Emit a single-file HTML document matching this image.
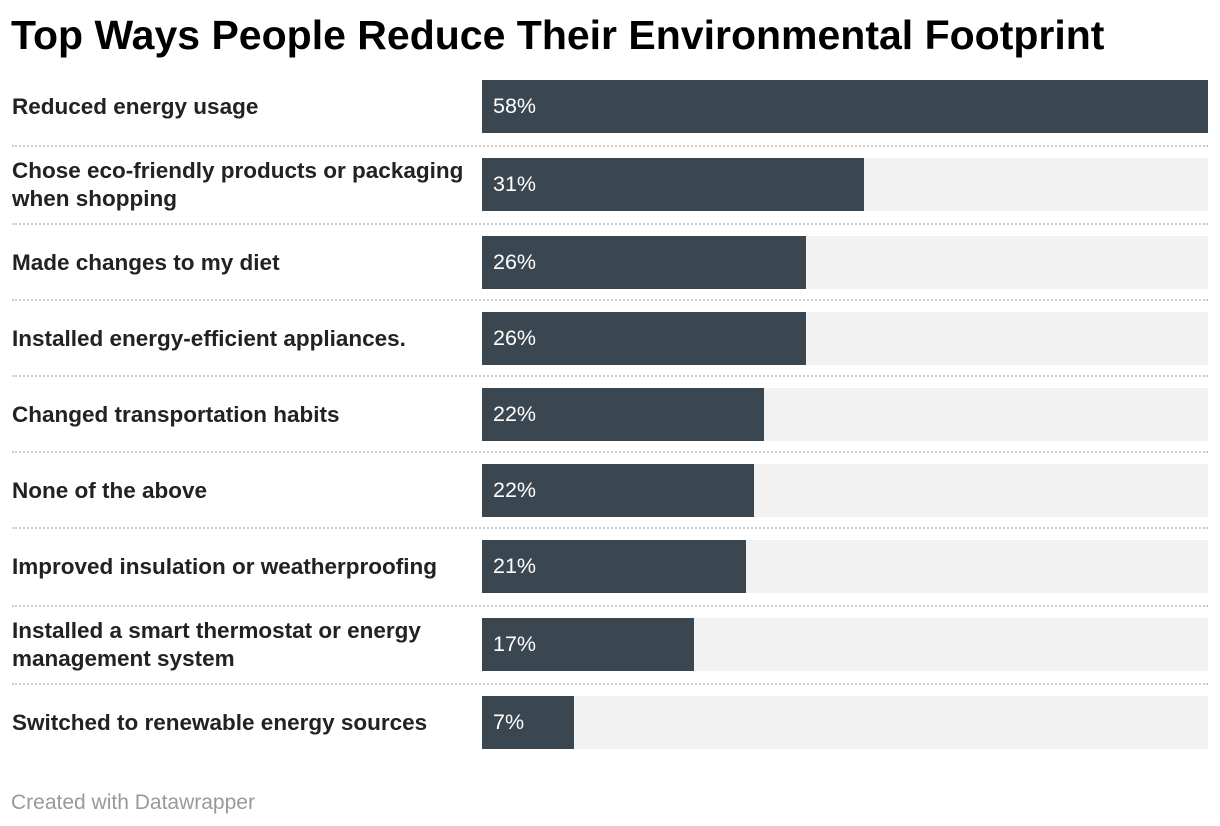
<!DOCTYPE html>
<html><head><meta charset="utf-8"><style>
body{margin:0;width:1220px;height:826px;background:#fff;font-family:"Liberation Sans",Arial,sans-serif;position:relative;overflow:hidden}
#title{position:absolute;left:11px;top:12px;font-size:41px;font-weight:bold;color:#000;letter-spacing:0px}
.lab{position:absolute;left:12px;width:465px;font-size:22.5px;font-weight:bold;color:#222;line-height:28px;display:flex;align-items:center}
.bg{position:absolute;left:482px;width:726px;height:53px;background:#f2f2f2}
.bar{position:absolute;left:482px;height:53px;background:#3b4750}
.val{position:absolute;left:493px;height:53px;line-height:53px;font-size:21.5px;color:#fff}
.sep{position:absolute;left:12px;width:1196px;border-top:2px dotted #ccc;height:0}
#footer{position:absolute;left:11px;top:791px;font-size:21px;color:#999}
</style></head><body>
<div id="title">Top Ways People Reduce Their Environmental Footprint</div>
<div id="chart"></div>
<div id="footer">Created with Datawrapper</div>
<script>
const categories=["Reduced energy usage","Chose eco-friendly products or packaging when shopping","Made changes to my diet","Installed energy-efficient appliances.","Changed transportation habits","None of the above","Improved insulation or weatherproofing","Installed a smart thermostat or energy management system","Switched to renewable energy sources"];
const values=[58,30.5,25.9,25.9,22.5,21.7,21.1,16.9,7.35];
const valueLabels=["58%","31%","26%","26%","22%","22%","21%","17%","7%"];
const twoLine=[false,true,false,false,false,false,false,true,false];
const maxV=58, x0=482, W=726;
const xs=v=>v/maxV*W;
const c=document.getElementById('chart');
let rowTop=80;
for(let i=0;i<categories.length;i++){
  const lab=document.createElement('div');lab.className='lab';
  
  
  lab.style.top=rowTop+'px';lab.style.height='53px';lab.textContent=categories[i];c.appendChild(lab);
  const bg=document.createElement('div');bg.className='bg';
  
  
  bg.style.top=rowTop+'px';c.appendChild(bg);
  const b=document.createElement('div');b.className='bar';
  
  
  b.style.top=rowTop+'px';b.style.width=xs(values[i])+'px';c.appendChild(b);
  const v=document.createElement('div');v.className='val';
  
  
  v.style.top=rowTop+'px';v.textContent=valueLabels[i];c.appendChild(v);
  const h=(i==0||twoLine[i]||twoLine[i+1])?78:76;
  if(i<categories.length-1){
    const s=document.createElement('div');s.className='sep';
    
    
    s.style.top=(rowTop+h-13)+'px';c.appendChild(s);
  }
  rowTop+=h;
}
</script>
</body></html>
